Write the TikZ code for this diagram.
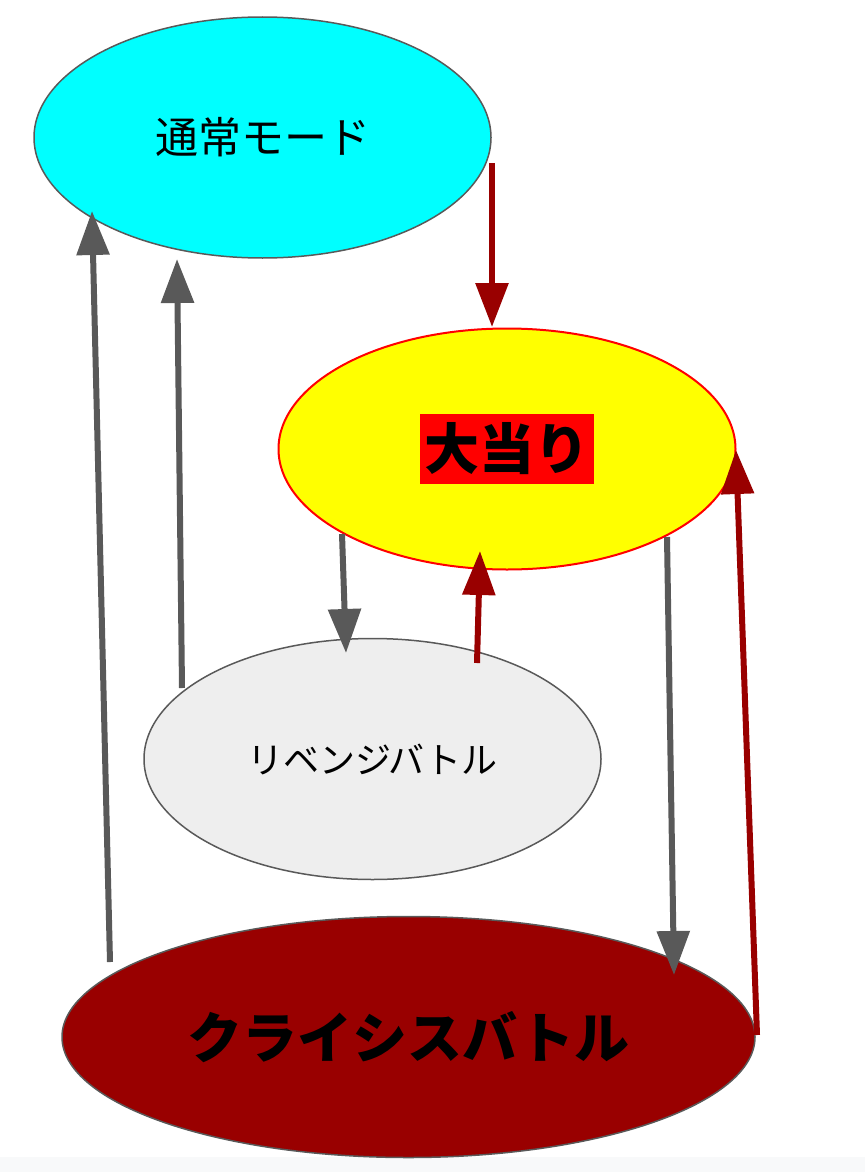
\documentclass[tikz,border=0pt]{standalone}
\usepackage{fontspec}
\newfontfamily\jpfont{Noto Sans CJK JP}
\usetikzlibrary{shapes.geometric,arrows.meta}
\definecolor{darkred}{HTML}{990000}
\definecolor{flowgray}{HTML}{595959}
\definecolor{normalcyan}{HTML}{00FFFF}
\definecolor{jackpotyellow}{HTML}{FFFF00}
\definecolor{jackpotred}{HTML}{FF0000}
\definecolor{revengegray}{HTML}{EEEEEE}
\definecolor{stripgray}{HTML}{F8F9FA}
\tikzset{
>={Triangle[length=44pt,width=32pt]}, % big solid heads
phase/.style={ellipse, draw=flowgray, line width=1.5pt, inner sep=0pt, minimum width=457pt, minimum height=241pt},
normaltext/.style={font=\jpfont\fontsize{43}{50}\selectfont},
bigtext/.style={font=\jpfont\bfseries\fontsize{55}{64}\selectfont},
flow/.style={line width=6pt},
grayflow/.style={flow, draw=flowgray},
redflow/.style={flow, draw=darkred}
}

\begin{document}
\begin{tikzpicture}[x=1pt,y=-1pt]
   \useasboundingbox (0,0) rectangle (865,1172);
   \fill[stripgray] (0,1157) rectangle (865,1172);
   \node[phase, normaltext] (normal) at (262.5,137.5) [fill=normalcyan] {通常モード};
   \node[phase] (jackpot) at (507,449) [fill=jackpotyellow, draw=jackpotred, line width=2pt] {};
   \node[bigtext, fill=jackpotred, inner sep=0pt, minimum width=174pt, minimum height=70pt] (jackpottext) at (jackpot) {大当り};
   \node[phase, normaltext] (revenge) at (372.5,759) [fill=revengegray, font=\jpfont\fontsize{36}{42}\selectfont] {リベンジバトル};
   \node[phase, bigtext] (crisis) at (408.5,1037) [fill=darkred, minimum width=693pt] {クライシスバトル};
   % connector ends
   \coordinate (n1) at (492,163);
   \coordinate (j1) at (492,327);
   \coordinate (c1) at (110,962);
   \coordinate (n2) at (92,211);
   \coordinate (r1) at (182,688);
   \coordinate (n3) at (177,259);
   \coordinate (j2) at (342,534);
   \coordinate (r2) at (346,653);
   \coordinate (r3) at (477,663);
   \coordinate (j3) at (480,551);
   \coordinate (j4) at (667,537);
   \coordinate (c2) at (674,975);
   \coordinate (c3) at (757,1035);
   \coordinate (j5) at (736,450);
   \path[->]
    (n1) edge[redflow] (j1)
    (c1) edge[grayflow] (n2)
    (r1) edge[grayflow] (n3)
    (j2) edge[grayflow] (r2)
    (r3) edge[redflow] (j3)
    (j4) edge[grayflow] (c2)
    (c3) edge[redflow] (j5);
\end{tikzpicture}
\end{document}
